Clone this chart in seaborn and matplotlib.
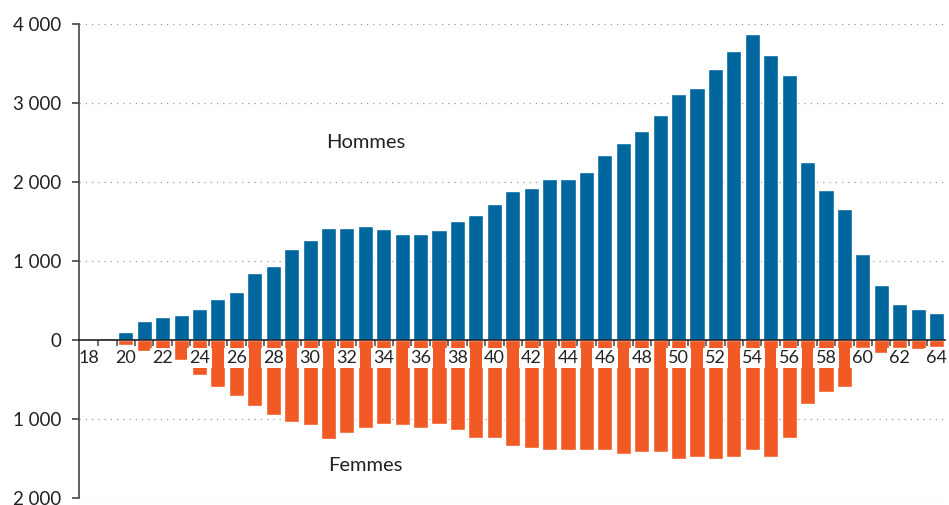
import pandas as pd
import matplotlib
matplotlib.use('Agg')
import matplotlib.pyplot as plt
import seaborn as sns
from matplotlib.ticker import FixedLocator, FuncFormatter

# Âges et effectifs
ages = list(range(18, 65))
hommes = [0, 30, 105, 240, 290, 315, 390, 515, 605, 845, 935, 1150, 1265, 1415, 1415,
          1440, 1400, 1340, 1340, 1390, 1505, 1580, 1720, 1885, 1920, 2035, 2035, 2125,
          2340, 2490, 2640, 2845, 3110, 3185, 3425, 3655, 3870, 3605, 3350, 2250, 1895,
          1655, 1090, 695, 455, 390, 340]
femmes = [0, 0, 60, 135, 190, 250, 440, 590, 705, 830, 945, 1035, 1070, 1250, 1180,
          1110, 1060, 1075, 1110, 1060, 1135, 1240, 1240, 1340, 1365, 1390, 1390, 1390,
          1390, 1440, 1420, 1420, 1505, 1480, 1505, 1480, 1390, 1480, 1240, 805, 655,
          590, 100, 160, 100, 115, 85]
yticks = [-2000, -1000, 0, 1000, 2000, 3000, 4000]

df = pd.DataFrame({'Age': ages, 'Hommes': hommes, 'Femmes': [-v for v in femmes]})

sns.set_style('white')
plt.rcParams['font.family'] = ['Lato', 'DejaVu Sans']

fig = plt.figure(figsize=(9.49, 5.05), dpi=100)
ax = fig.add_axes([79 / 949, 1 - 498 / 505, (945 - 79) / 949, (498 - 24) / 505])

# grille pointillée derrière les barres
for y in yticks:
    if y != 0:
        ax.axhline(y, color='#999999', linestyle=(0, (1, 4)), linewidth=0.9, zorder=0)

sns.barplot(data=df, x='Age', y='Hommes', native_scale=True, width=0.82,
            color='#00669e', saturation=1, ax=ax, zorder=1)
sns.barplot(data=df, x='Age', y='Femmes', native_scale=True, width=0.82,
            color='#f15a24', saturation=1, ax=ax, zorder=1)

ax.set_axisbelow(False)
ax.set_xlim(17.46, 64.46)
ax.set_ylim(-2000, 4000)
ax.set_xlabel('')
ax.set_ylabel('')

ax.spines['top'].set_visible(False)
ax.spines['right'].set_visible(False)
ax.spines['bottom'].set_position(('data', 0))
ax.spines['bottom'].set_color('#222222')
ax.spines['bottom'].set_linewidth(1.2)
ax.spines['left'].set_color('#444444')
ax.spines['left'].set_linewidth(1.2)
ax.spines['left'].set_zorder(4)
ax.spines['bottom'].set_zorder(4)

ax.set_yticks(yticks)
ax.yaxis.set_major_formatter(FuncFormatter(lambda v, p: f"{abs(int(v)):,}".replace(",", " ")))
ax.tick_params(axis='y', direction='out', length=5, width=1.2, color='#444444',
               labelsize=13.5, labelcolor='#222222', pad=8, left=True)

ax.xaxis.set_major_locator(FixedLocator([a for a in ages if a % 2 == 0]))
ax.xaxis.set_minor_locator(FixedLocator([a + 0.5 for a in ages[:-1]]))
ax.set_xticklabels([str(a) for a in ages if a % 2 == 0])
ax.tick_params(axis='x', which='major', length=0, labelsize=13, labelcolor='#222222', pad=7)
ax.tick_params(axis='x', which='minor', direction='out', length=4, width=1.2,
               color='#555555', bottom=True)
for lbl in ax.get_xticklabels():
    lbl.set_bbox(dict(facecolor='white', edgecolor='none', pad=1.5))

ax.text(33, 2500, 'Hommes', ha='center', va='center', fontsize=14.5, color='#222222')
ax.text(33, -1590, 'Femmes', ha='center', va='center', fontsize=14.5, color='#222222')

fig.savefig('out.png', dpi=100)
